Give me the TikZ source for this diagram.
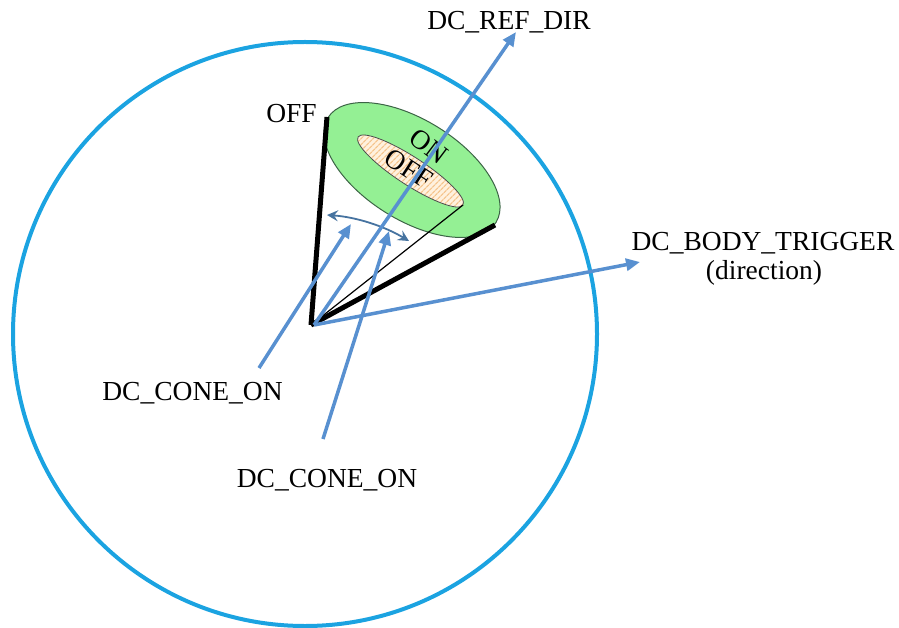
\documentclass[tikz,border=0pt]{standalone}
\usepackage{fontspec}
\setmainfont{Liberation Serif}
\usetikzlibrary{arrows.meta,shapes.geometric,patterns.meta}
\definecolor{ringblue}{RGB}{27,163,225}
\definecolor{arrblue}{RGB}{88,144,208}
\definecolor{arcblue}{RGB}{70,115,160}
\definecolor{conegreen}{RGB}{148,240,148}
\definecolor{greenedge}{RGB}{60,100,70}
\definecolor{peach}{RGB}{255,241,222}
\definecolor{hatch}{RGB}{245,196,140}
\tikzset{
  lbl/.style={inner sep=0pt, font=\fontsize{27.5}{28.3}\selectfont},
  bluearrow/.style={draw=arrblue, line width=3.5pt, -{Triangle[length=14pt,width=12pt]}},
  conethick/.style={draw=black, line width=5pt},
  conethin/.style={draw=black, line width=1.2pt},
  anglearrow/.style={draw=arcblue, line width=1.8pt, {Stealth[length=11pt,width=11pt,inset=4pt]}-{Stealth[length=11pt,width=11pt,inset=4pt]}},
}
\begin{document}
\begin{tikzpicture}[x=1pt,y=-1pt]
\useasboundingbox (0,0) rectangle (899,628);
% big circle
\node[circle, draw=ringblue, line width=4pt, minimum size=584pt, inner sep=0pt] (world) at (305,334) {};
% outer ellipse (ON zone)
\node[ellipse, draw=greenedge, line width=1pt, fill=conegreen, minimum width=198pt, minimum height=100pt, inner sep=0pt, rotate=-32] (onzone) at (412,170) {};
% inner ellipse (OFF zone)
\node[ellipse, fill=peach, minimum width=125pt, minimum height=28pt, inner sep=0pt, rotate=-33] (offzone) at (410.5,171) {};
\node[ellipse, pattern={Lines[angle=45,distance=4pt,line width=1.3pt]}, pattern color=hatch, minimum width=124pt, minimum height=27pt, inner sep=0pt, rotate=-33] (offhatch) at (410.5,171) {};
\draw[black!70, line width=0.8pt, rotate around={-33:(410.5,171)}] (410.5,171) ellipse [x radius=62.5pt, y radius=14pt];
% texts in ellipses
\node[lbl, rotate=-37] (ontxt) at (429,146) {ON};
\node[lbl, rotate=-33] (offin) at (409,169) {OFF};
% cone
\coordinate (apex) at (311,325);
\coordinate (lefttop) at (327,117);
\coordinate (rightend) at (495,225);
\coordinate (innerend) at (463,205);
\draw[conethick] (apex) -- (lefttop);
\draw[conethick] (apex) -- (rightend);
\draw[conethin] (apex) -- (innerend);
% angle arrow
\coordinate (angL) at (327,215);
\coordinate (angR) at (409,241);
\draw[anglearrow] (angL) .. controls (356,217) and (384,226) .. (angR);
% labels
\node[lbl, anchor=base] (refdir) at (509,30) {DC\_REF\_DIR};
\node[lbl, anchor=base] (body) at (763,251) {DC\_BODY\_TRIGGER};
\node[lbl, anchor=base] (bodydir) at (764,279.3) {(direction)};
\node[lbl, anchor=base] (cone1) at (192.5,400) {DC\_CONE\_ON};
\node[lbl, anchor=base] (cone2) at (327,487) {DC\_CONE\_ON};
\node[lbl, anchor=base] (offtop) at (291.5,123) {OFF};
% blue arrows
\coordinate (apexB) at (314,325);
\coordinate (refTip) at (516,32);
\coordinate (bodyTip) at (640,262);
\coordinate (c1start) at (259,368);
\coordinate (c1tip) at (351,224);
\coordinate (c2start) at (323,439);
\coordinate (c2tip) at (389,231);
\draw[bluearrow] (apexB) -- (refTip);
\draw[bluearrow] (apexB) -- (bodyTip);
\draw[bluearrow] (c1start) -- (c1tip);
\draw[bluearrow] (c2start) -- (c2tip);
\end{tikzpicture}
\end{document}
